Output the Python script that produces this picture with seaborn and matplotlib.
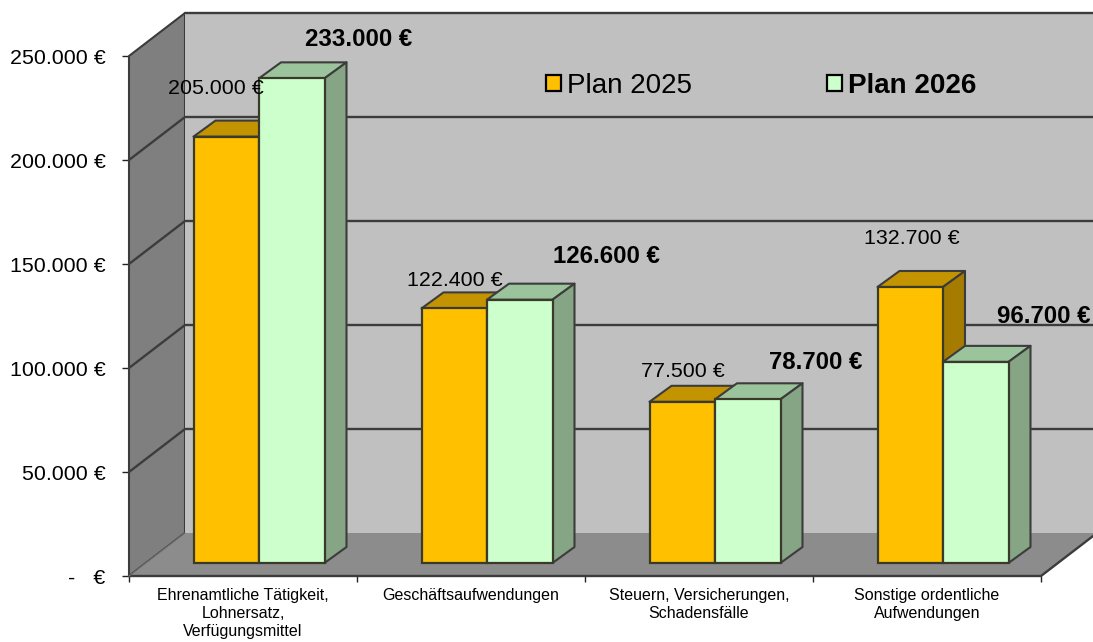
import pandas as pd
import seaborn as sns
import matplotlib.pyplot as plt
from matplotlib.patches import Polygon

kategorien = ["Ehrenamtliche Tätigkeit,\nLohnersatz,\nVerfügungsmittel", "Geschäftsaufwendungen",
              "Steuern, Versicherungen,\nSchadensfälle", "Sonstige ordentliche\nAufwendungen"]
plan_2025 = [205000, 122400, 77500, 132700]
plan_2026 = [233000, 126600, 78700, 96700]
y_ticks = [0, 50000, 100000, 150000, 200000, 250000]
y_labels = ["-   €", "50.000 €", "100.000 €", "150.000 €", "200.000 €", "250.000 €"]

# pixel offsets of the value labels from the bar top centre
off_2025 = [(-10, 48), (1, 28), (1, 30), (2, 48)]
off_2026 = [(67, 39), (87, 43), (68, 37), (68, 45)]

sns.set_theme(style="white")
plt.rcParams["font.family"] = ["Liberation Sans", "DejaVu Sans"]

fig = plt.figure(figsize=(10.93, 6.42), dpi=100)
ax = fig.add_axes([129 / 1093, 66 / 642, 912 / 1093, 520 / 642])

df = pd.DataFrame({"kat": kategorien * 2,
                   "wert": plan_2025 + plan_2026,
                   "plan": ["Plan 2025"] * 4 + ["Plan 2026"] * 4})
sns.barplot(data=df, x="kat", y="wert", hue="plan", palette=["#FFC000", "#CCFFCC"],
            width=131 / 228, gap=0, saturation=1, edgecolor="#3a3a2a", linewidth=1.6, ax=ax)

ax.set_xlim(-0.5, 3.5)
ax.set_ylim(0, 250000)
ax.patch.set_visible(False)
for s in ax.spines.values():
    s.set_visible(False)

# pixel -> data
ux = 1 / 228
uy = 250000 / 520
wall_dx, wall_dy = 56 * ux, 43 * uy
line = "#3c3c3c"


def poly(pts, color, z, edge=line, lw=1.5):
    ax.add_patch(Polygon(pts, closed=True, facecolor=color, edgecolor=edge, linewidth=lw,
                         zorder=z, clip_on=False, joinstyle="round"))


x0, x1 = -0.5, 3.5
top = 250000
poly([(x0, 0), (x0 + wall_dx, wall_dy), (x0 + wall_dx, top + wall_dy), (x0, top)], "#7F7F7F", 1)
poly([(x0 + wall_dx, wall_dy), (x1 + wall_dx, wall_dy), (x1 + wall_dx, top + wall_dy), (x0 + wall_dx, top + wall_dy)],
     "#C0C0C0", 1, edge="none")
ax.plot([x0 + wall_dx, x1 + wall_dx], [top + wall_dy] * 2, color=line, lw=1.7, zorder=1.5, clip_on=False)
poly([(x0, 0), (x1, 0), (x1 + wall_dx, wall_dy), (x0 + wall_dx, wall_dy)], "#8C8C8C", 1.6, edge="none")
ax.plot([x0, x1, x1 + wall_dx], [0, 0, wall_dy], color=line, lw=1.7, zorder=1.7, clip_on=False)
ax.plot([x0 + wall_dx, x0], [wall_dy, 0], color="#6f6f6f", lw=0.8, zorder=1.7, clip_on=False)

# grid on left and back wall
for v in y_ticks[1:-1]:
    ax.plot([x0, x0 + wall_dx, x1 + wall_dx], [v, v + wall_dy, v + wall_dy], color=line, lw=1.7,
            zorder=1.5, clip_on=False)

# bars: slide into the floor, then add the top and side faces
shift_x, shift_y = 16 * ux, 13 * uy
dx, dy = 22 * ux, 16 * uy
faces = [("#C49300", "#A67C00"), ("#9CC49C", "#85A585")]
z = 3
for n in range(4):
    for i, cont in enumerate(ax.containers):
        b = cont[n]
        b.set_x(b.get_x() + shift_x)
        b.set_y(shift_y)
        bl, br = b.get_x(), b.get_x() + b.get_width()
        t = b.get_y() + b.get_height()
        poly([(bl, t), (br, t), (br + dx, t + dy), (bl + dx, t + dy)], faces[i][0], z)
        poly([(br, shift_y), (br + dx, shift_y + dy), (br + dx, t + dy), (br, t)], faces[i][1], z)
        b.set_zorder(z + 0.5)
        z += 1

for i, cont in enumerate(ax.containers):
    offs = off_2025 if i == 0 else off_2026
    for b, o, val in zip(cont, offs, plan_2025 if i == 0 else plan_2026):
        txt = f"{val:,.0f} €".replace(",", ".")
        ax.annotate(txt, (b.get_x() + b.get_width() / 2, b.get_y() + b.get_height()), xytext=o,
                    textcoords="offset pixels", ha="center", va="center", color="black",
                    fontsize=15.4 if i == 0 else 17.3, fontweight="normal" if i == 0 else "bold",
                    zorder=50, annotation_clip=False)

ax.set_yticks(y_ticks)
ax.set_yticklabels(y_labels, fontsize=15.4, color="black")
ax.tick_params(axis="y", left=True, length=5, width=1, color="#222222", pad=12)
ax.set_xticks([0, 1, 2, 3])
ax.set_xticklabels(kategorien, fontsize=11.5, color="black", linespacing=1.27)
ax.set_xticks([-0.5, 0.5, 1.5, 2.5, 3.5], minor=True)
ax.tick_params(axis="x", which="major", bottom=False, length=0, pad=8.5)
ax.tick_params(axis="x", which="minor", bottom=True, length=4.5, width=1, color="#222222")
ax.set_xlabel("")
ax.set_ylabel("")

handles, labels = ax.get_legend_handles_labels()
leg = ax.legend(handles, labels, ncol=2, frameon=False, fontsize=20, loc="center left",
                labelcolor="black", bbox_to_anchor=(546 / 1093, 556 / 642), bbox_transform=fig.transFigure,
                borderpad=0, borderaxespad=0, handlelength=0.54, handleheight=0.54,
                handletextpad=0.22, columnspacing=4.86)
leg.set_zorder(60)
for h in leg.legend_handles:
    h.set_edgecolor("black")
    h.set_linewidth(1.6)
leg.get_texts()[1].set_fontweight("bold")

fig.savefig("out.png", dpi=100)
